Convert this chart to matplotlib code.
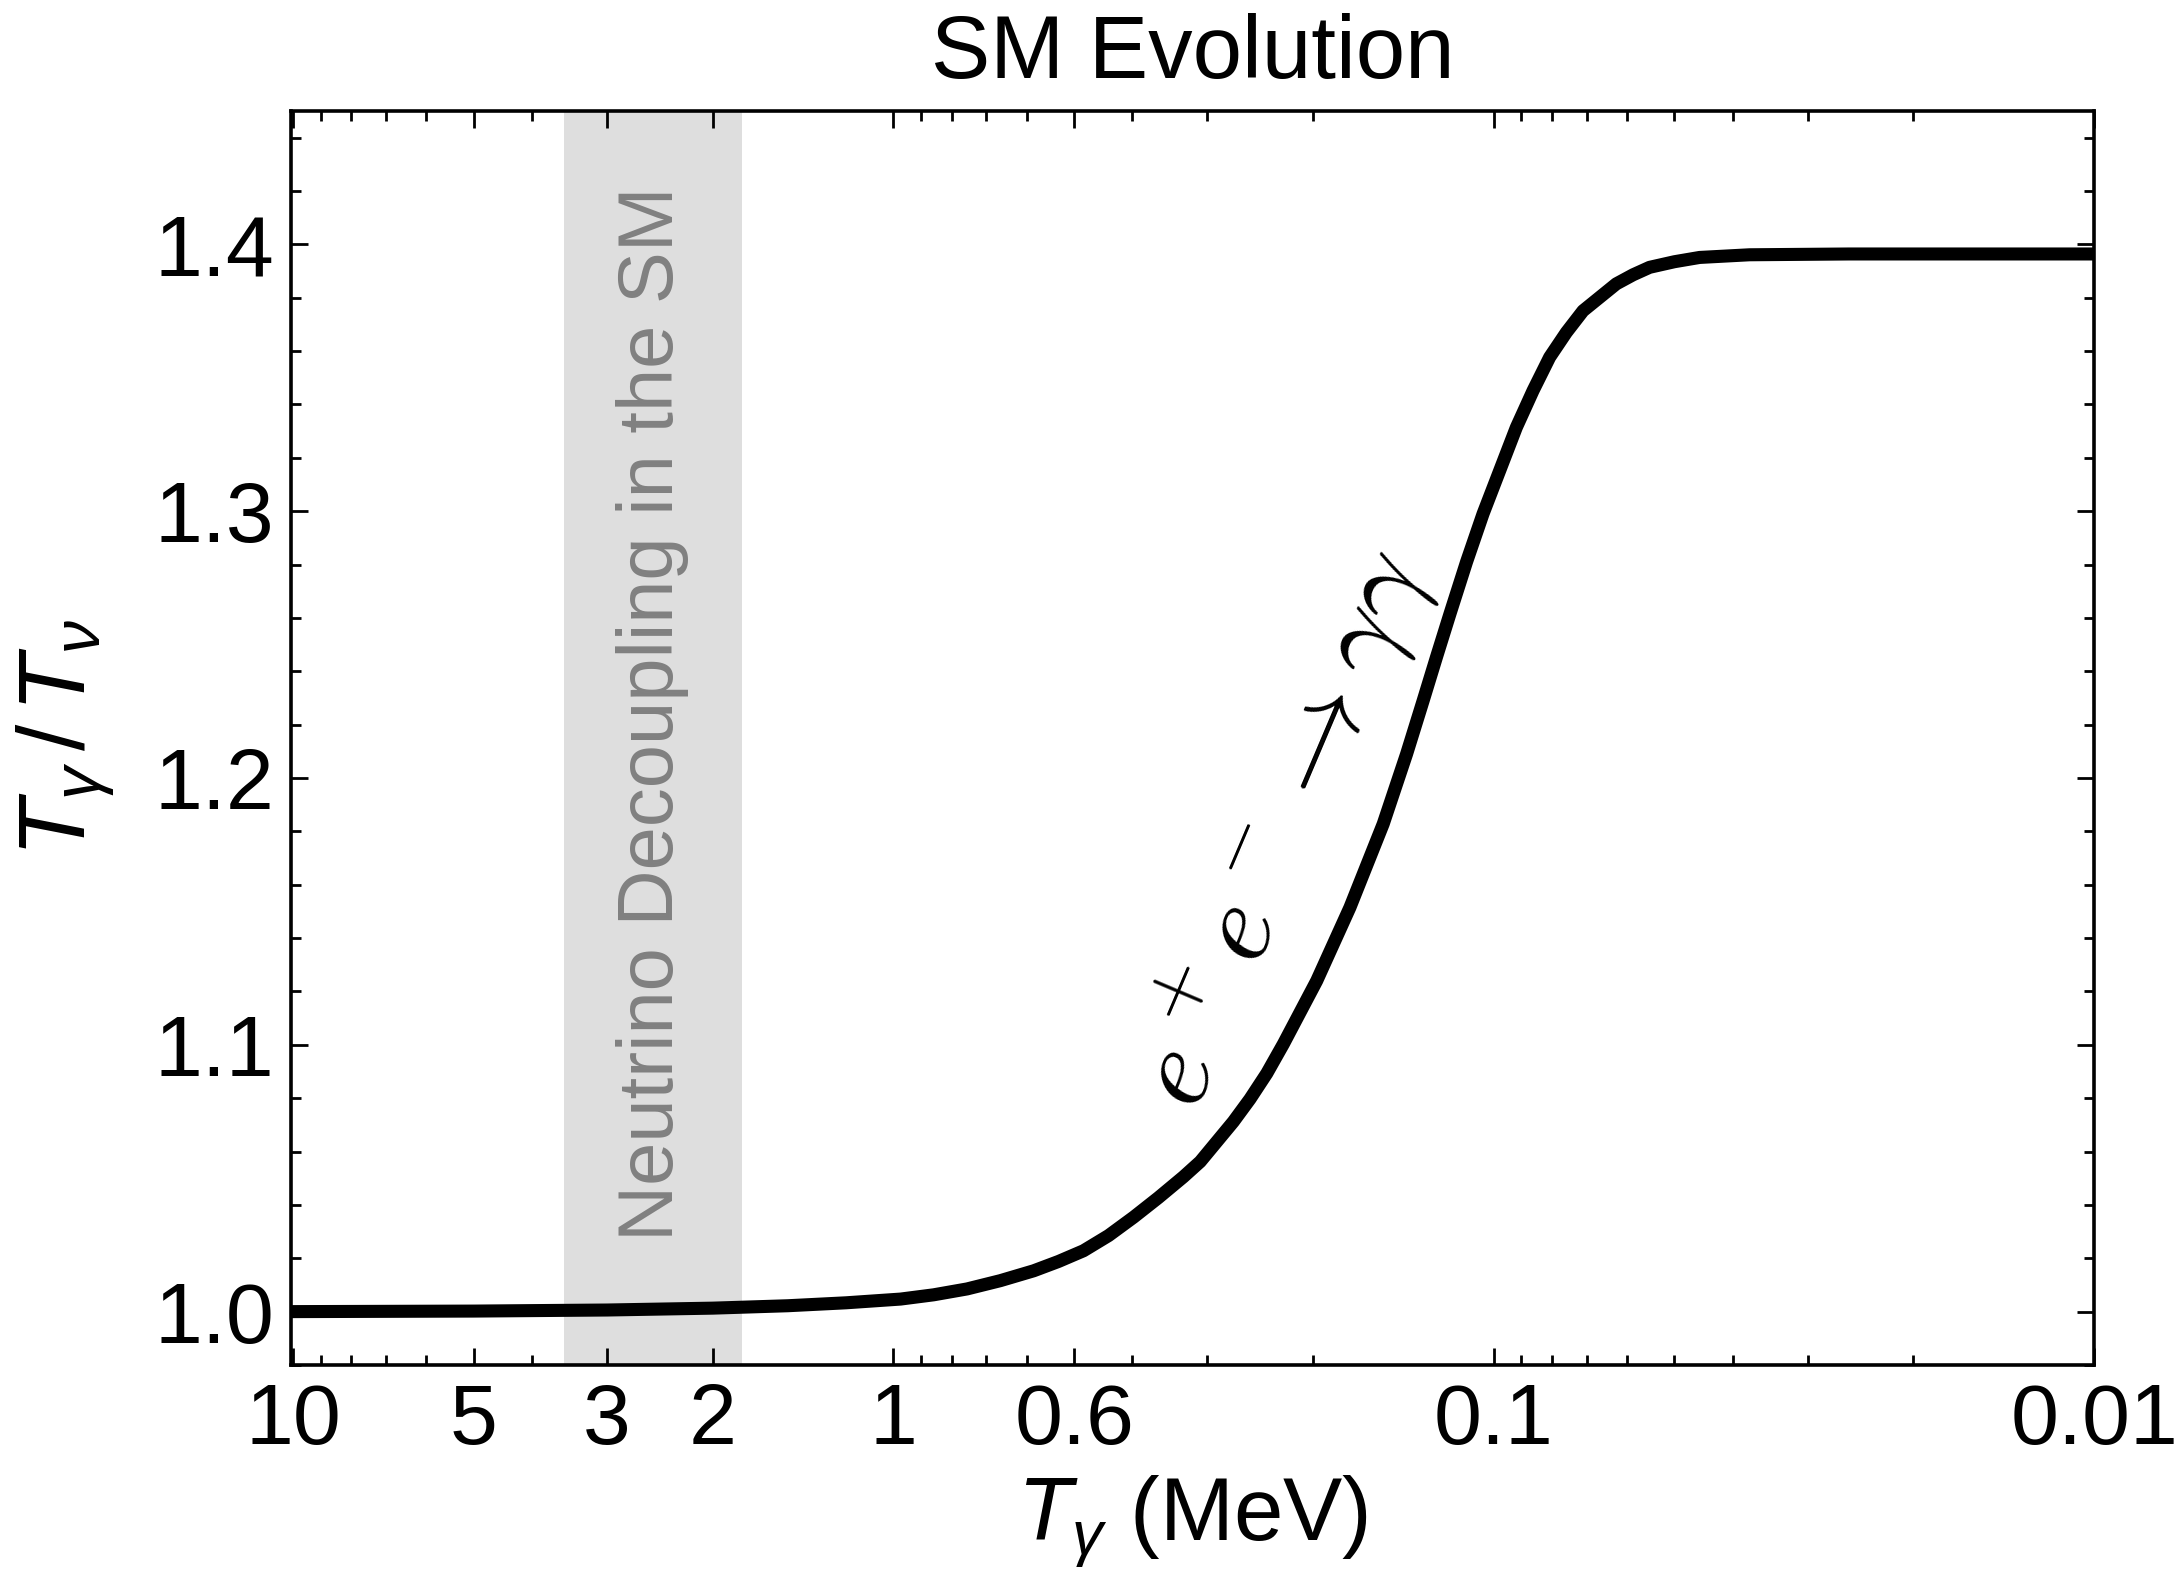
import numpy as np
import matplotlib
matplotlib.use("Agg")
import matplotlib.pyplot as plt
from matplotlib.ticker import FixedLocator, FixedFormatter, NullFormatter

plt.rcParams['font.family'] = ['Liberation Sans', 'DejaVu Sans']
plt.rcParams['mathtext.fontset'] = 'custom'
plt.rcParams['mathtext.it'] = 'Liberation Sans:italic'
plt.rcParams['mathtext.rm'] = 'Liberation Sans'

# photon temperature (MeV) and T_gamma / T_nu
T_gamma = [10.0, 5.0, 3.0, 2.0, 1.5, 1.2, 0.973, 0.857, 0.754, 0.6637,
           0.584, 0.5309, 0.4825, 0.4382, 0.398, 0.362, 0.3289, 0.3083,
           0.2715, 0.2547, 0.2388, 0.2241, 0.1972, 0.1736, 0.1528, 0.1397,
           0.1311, 0.1245, 0.1183, 0.111, 0.1042, 0.0917, 0.086, 0.0807,
           0.0757, 0.0710, 0.0625, 0.0586, 0.0550, 0.050, 0.0454, 0.0375,
           0.0256, 0.01]
ratio = [1.0, 1.0002, 1.0006, 1.0013, 1.0022, 1.0033, 1.0047, 1.0063, 1.0085,
         1.0116, 1.0153, 1.0188, 1.0228, 1.0285, 1.0354, 1.0427, 1.0505,
         1.0562, 1.0712, 1.0797, 1.0893, 1.1003, 1.124, 1.1515, 1.1828,
         1.209, 1.229, 1.2455, 1.2615, 1.281, 1.299, 1.3314, 1.3452, 1.3577,
         1.367, 1.3751, 1.3852, 1.3886, 1.3914, 1.3935, 1.3951, 1.3961,
         1.3964, 1.3964]

band = (3.54, 1.79)  # neutrino decoupling window, MeV

major_x = [10, 5, 3, 2, 1, 0.5, 0.1, 0.01]
major_lbl = ['10', '5', '3', '2', '1', '0.6', '0.1', '0.01']
minor_x = [9, 8, 7, 6, 4, 0.9, 0.8, 0.7, 0.6, 0.4, 0.3, 0.2,
           0.09, 0.08, 0.07, 0.06, 0.05, 0.04, 0.03, 0.02]

fig = plt.figure(figsize=(10.91, 7.87), dpi=200)
ax = fig.add_axes([0.1334, 0.1328, 0.8263, 0.7967])

ax.axvspan(band[0], band[1], color='#dedede', lw=0, zorder=0)
ax.plot(T_gamma, ratio, color='black', lw=4.7, zorder=3,
        solid_joinstyle='round')

ax.set_xscale('log')
ax.set_xlim(10.08, 0.01)
ax.set_ylim(0.98, 1.45)

ax.xaxis.set_major_locator(FixedLocator(major_x))
ax.xaxis.set_major_formatter(FixedFormatter(major_lbl))
ax.xaxis.set_minor_locator(FixedLocator(minor_x))
ax.xaxis.set_minor_formatter(NullFormatter())
ax.set_yticks([1.0, 1.1, 1.2, 1.3, 1.4])
ax.set_yticks(np.arange(0.98, 1.451, 0.02), minor=True)

ax.tick_params(which='both', direction='in', top=True, right=True,
               labelsize=31, width=1.0, pad=6)
ax.tick_params(which='major', length=6.2)
ax.tick_params(which='minor', length=3.7)
for s in ax.spines.values():
    s.set_linewidth(1.3)

ax.text(np.sqrt(band[0] * band[1]), 1.224, 'Neutrino Decoupling in the SM',
        rotation=90, color='#808080', fontsize=28, ha='center', va='center')
ax.text(0.225, 1.181, r'$e^+e^-\to\gamma\gamma$', math_fontfamily='cm',
        rotation=67, rotation_mode='anchor', fontsize=41,
        ha='center', va='center')

ax.set_title('SM Evolution', fontsize=32, pad=12)
ax.set_xlabel(r'$T_\gamma$ (MeV)', fontsize=32, labelpad=4)
ax.set_ylabel(r'$T_\gamma\,/\,T_\nu$', fontsize=34, labelpad=14)

fig.savefig('out.png', dpi=200)
